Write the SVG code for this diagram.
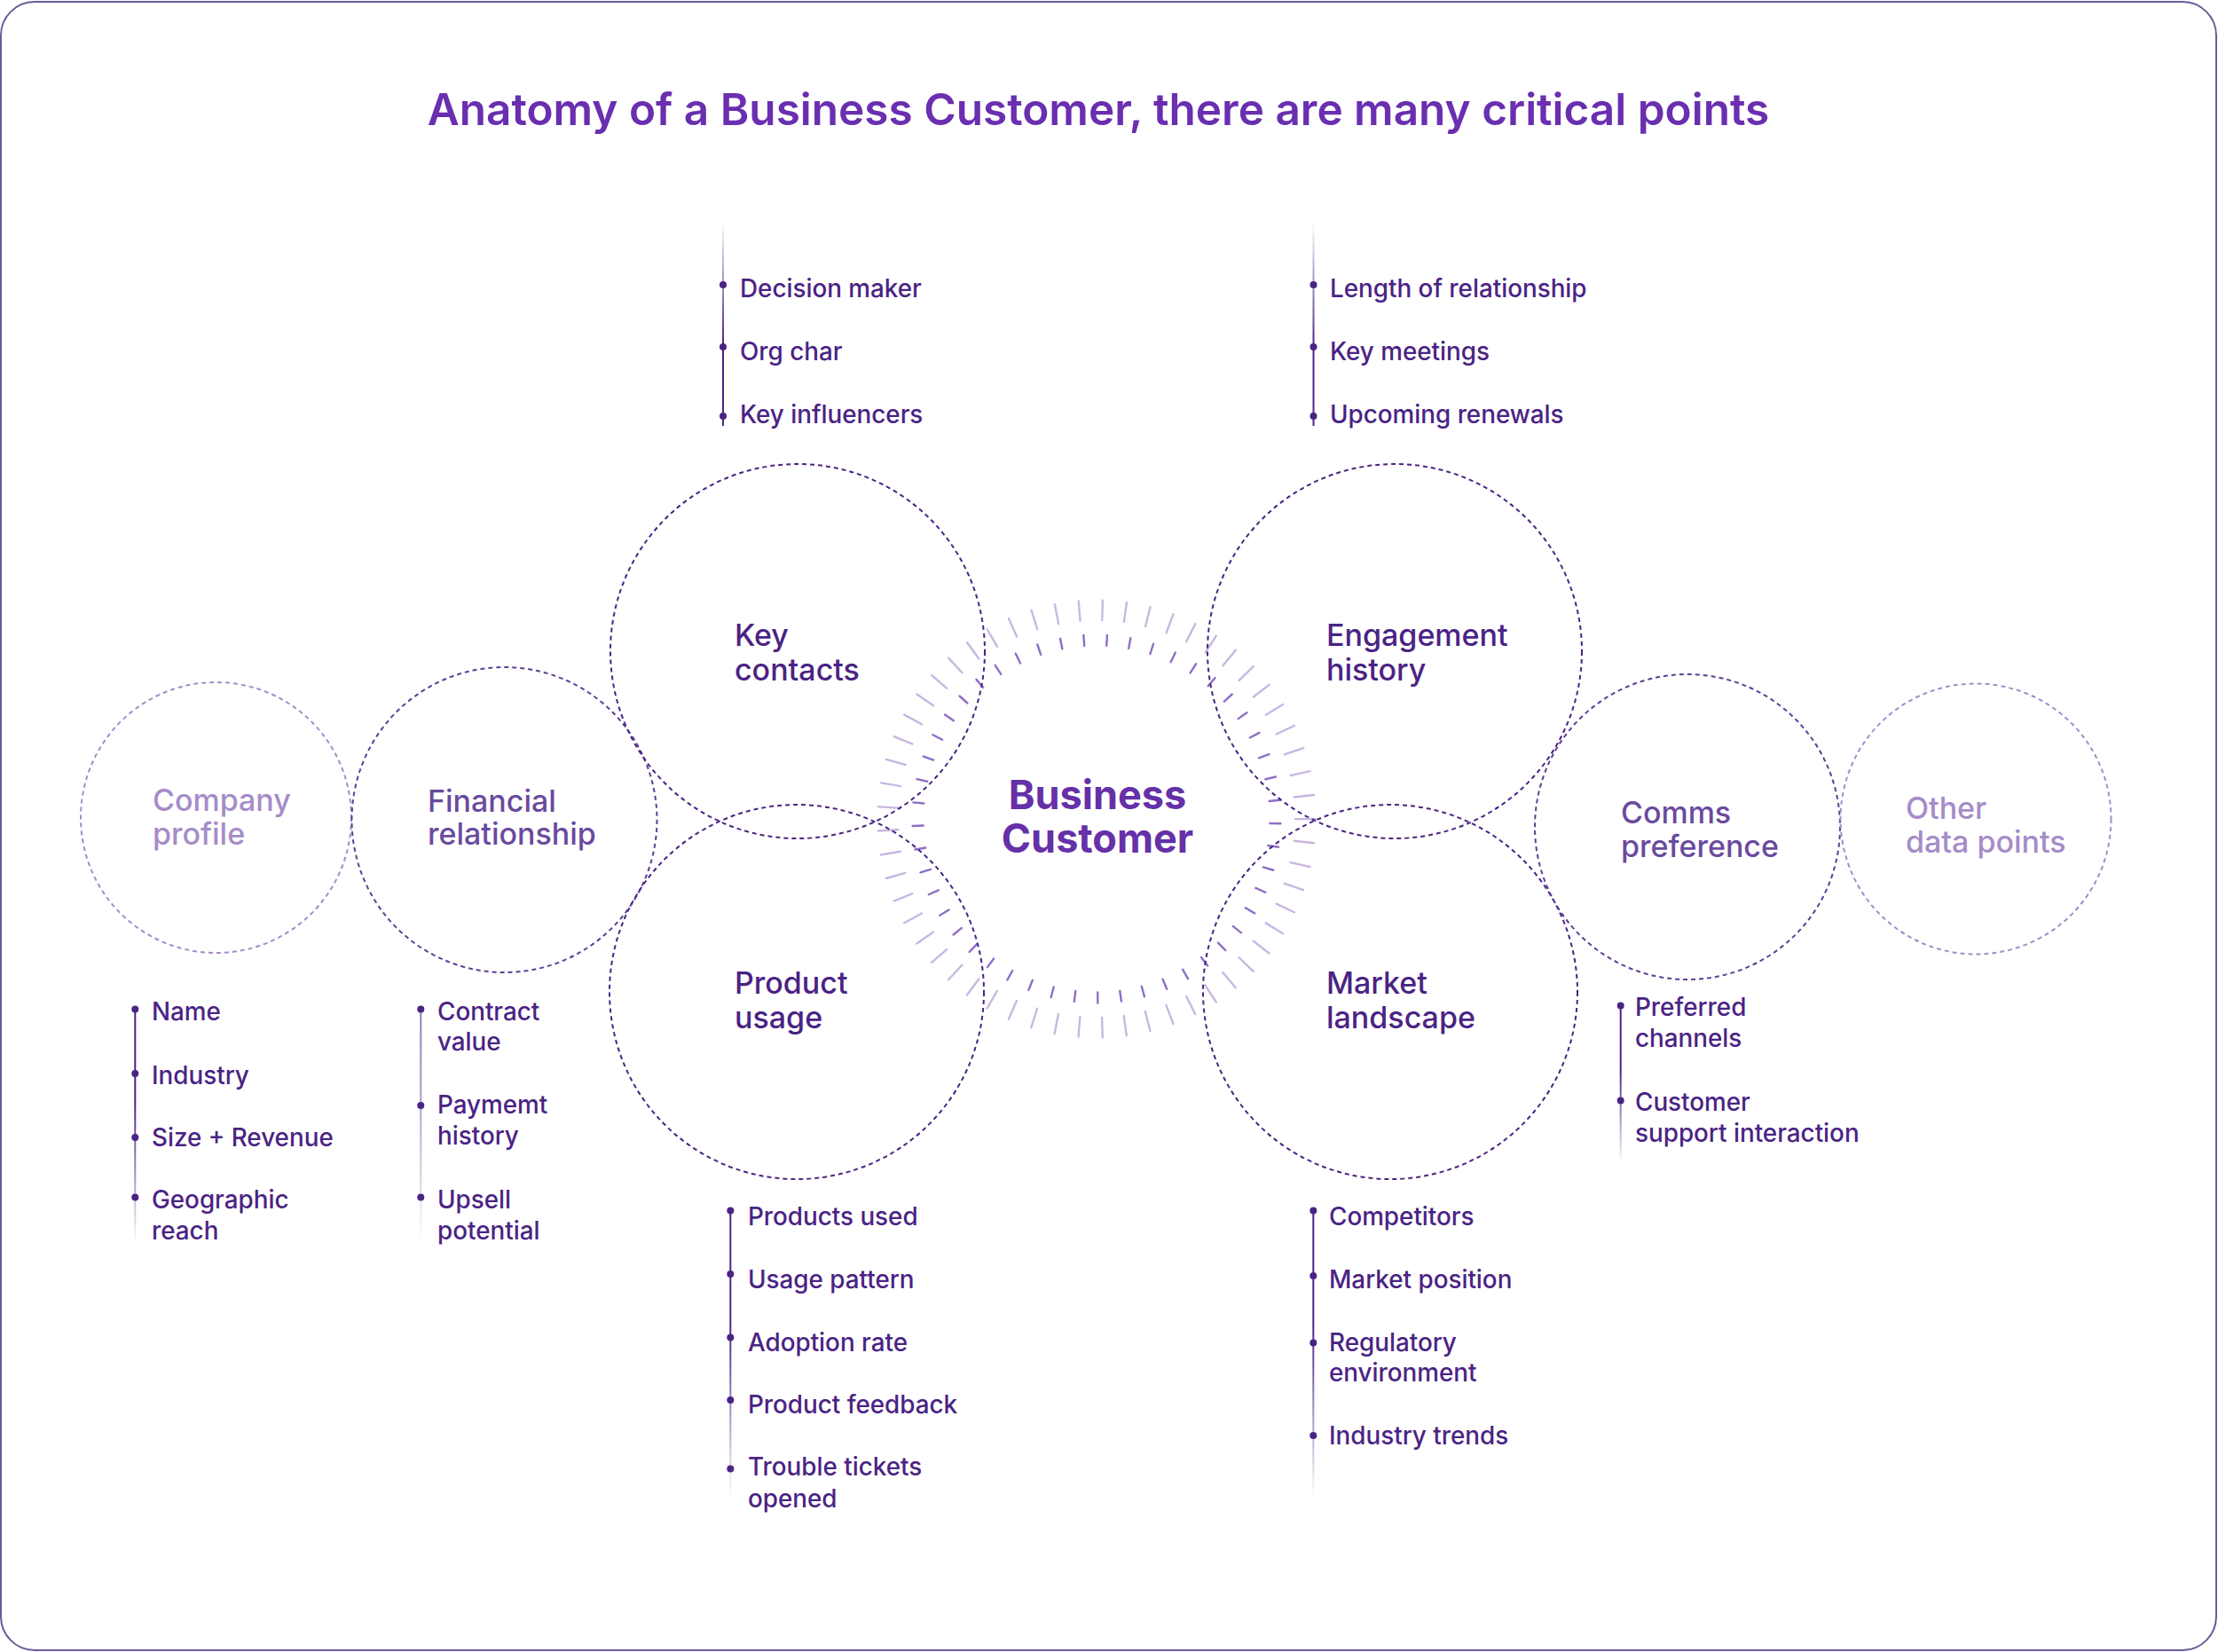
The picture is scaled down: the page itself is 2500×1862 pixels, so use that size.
<svg xmlns="http://www.w3.org/2000/svg" xmlns:xlink="http://www.w3.org/1999/xlink" width="2500" height="1862" viewBox="0 0 2500 1862">
<style>
.title{font-family:Inter,"Noto Sans",sans-serif;font-weight:600;font-size:49.5px;fill:#6a2fb0}
.center{font-family:Inter,"Noto Sans",sans-serif;font-weight:700;font-size:45px;fill:#6530a8}
.lbl{font-family:Inter,"Noto Sans",sans-serif;font-weight:500;font-size:34px}
.dark{fill:#4a2384}
.mid{fill:#6a4a9e}
.light{fill:#a58cc8}
.item{font-family:Inter,"Noto Sans",sans-serif;font-weight:500;font-size:27.8px;fill:#4a2384}
.ring{fill:none;stroke-width:2;stroke-dasharray:5 4}
.rdark{stroke:#4a2384}
.rmid{stroke:#5e3f96}
.rlight{stroke:#a58cc8}
.dot{fill:#4a2384}
.to{stroke:#c8b7e2;stroke-width:2.4;stroke-linecap:round}
.ti{stroke:#8f6fc4;stroke-width:2.4;stroke-linecap:round}
</style>
<defs>
<linearGradient id="gUp" x1="0" y1="0" x2="0" y2="1"><stop offset="0" stop-color="#4a2384" stop-opacity="0"/><stop offset="0.6" stop-color="#4a2384" stop-opacity="1"/><stop offset="1" stop-color="#4a2384" stop-opacity="1"/></linearGradient>
<linearGradient id="gDown" x1="0" y1="0" x2="0" y2="1"><stop offset="0" stop-color="#4a2384" stop-opacity="1"/><stop offset="0.4" stop-color="#4a2384" stop-opacity="1"/><stop offset="1" stop-color="#4a2384" stop-opacity="0"/></linearGradient>
<linearGradient id="gFin" x1="0" y1="0" x2="0" y2="1"><stop offset="0" stop-color="#4a2384" stop-opacity="0.6"/><stop offset="0.4" stop-color="#4a2384" stop-opacity="0.45"/><stop offset="1" stop-color="#4a2384" stop-opacity="0"/></linearGradient>
<line id="to" class="to" x1="1236" y1="676.5" x2="1236" y2="699"/>
<line id="ti" class="ti" x1="1236" y1="715.5" x2="1236" y2="727.5"/>
</defs>
<rect x="1" y="2" width="2497" height="1858" rx="38" ry="38" fill="#ffffff" stroke="#6b5a9a" stroke-width="2"/>
<text class="title" x="1238" y="141" text-anchor="middle">Anatomy of a Business Customer, there are many critical points</text>

<g id="ticks">
<use href="#to" transform="rotate(1.6 1236 923)"/><use href="#to" transform="rotate(7.92 1236 923)"/><use href="#to" transform="rotate(14.23 1236 923)"/><use href="#to" transform="rotate(20.55 1236 923)"/><use href="#to" transform="rotate(26.86 1236 923)"/><use href="#to" transform="rotate(33.18 1236 923)"/><use href="#to" transform="rotate(39.49 1236 923)"/><use href="#to" transform="rotate(45.81 1236 923)"/><use href="#to" transform="rotate(52.13 1236 923)"/><use href="#to" transform="rotate(58.44 1236 923)"/><use href="#to" transform="rotate(64.76 1236 923)"/><use href="#to" transform="rotate(71.07 1236 923)"/><use href="#to" transform="rotate(77.39 1236 923)"/><use href="#to" transform="rotate(83.71 1236 923)"/><use href="#to" transform="rotate(90.02 1236 923)"/><use href="#to" transform="rotate(96.34 1236 923)"/><use href="#to" transform="rotate(102.65 1236 923)"/><use href="#to" transform="rotate(108.97 1236 923)"/><use href="#to" transform="rotate(115.28 1236 923)"/><use href="#to" transform="rotate(121.6 1236 923)"/><use href="#to" transform="rotate(127.92 1236 923)"/><use href="#to" transform="rotate(134.23 1236 923)"/><use href="#to" transform="rotate(140.55 1236 923)"/><use href="#to" transform="rotate(146.86 1236 923)"/><use href="#to" transform="rotate(153.18 1236 923)"/><use href="#to" transform="rotate(159.49 1236 923)"/><use href="#to" transform="rotate(165.81 1236 923)"/><use href="#to" transform="rotate(172.13 1236 923)"/><use href="#to" transform="rotate(178.44 1236 923)"/><use href="#to" transform="rotate(184.76 1236 923)"/><use href="#to" transform="rotate(191.07 1236 923)"/><use href="#to" transform="rotate(197.39 1236 923)"/><use href="#to" transform="rotate(203.71 1236 923)"/><use href="#to" transform="rotate(210.02 1236 923)"/><use href="#to" transform="rotate(216.34 1236 923)"/><use href="#to" transform="rotate(222.65 1236 923)"/><use href="#to" transform="rotate(228.97 1236 923)"/><use href="#to" transform="rotate(235.28 1236 923)"/><use href="#to" transform="rotate(241.6 1236 923)"/><use href="#to" transform="rotate(247.92 1236 923)"/><use href="#to" transform="rotate(254.23 1236 923)"/><use href="#to" transform="rotate(260.55 1236 923)"/><use href="#to" transform="rotate(266.86 1236 923)"/><use href="#to" transform="rotate(273.18 1236 923)"/><use href="#to" transform="rotate(279.49 1236 923)"/><use href="#to" transform="rotate(285.81 1236 923)"/><use href="#to" transform="rotate(292.13 1236 923)"/><use href="#to" transform="rotate(298.44 1236 923)"/><use href="#to" transform="rotate(304.76 1236 923)"/><use href="#to" transform="rotate(311.07 1236 923)"/><use href="#to" transform="rotate(317.39 1236 923)"/><use href="#to" transform="rotate(323.71 1236 923)"/><use href="#to" transform="rotate(330.02 1236 923)"/><use href="#to" transform="rotate(336.34 1236 923)"/><use href="#to" transform="rotate(342.65 1236 923)"/><use href="#to" transform="rotate(348.97 1236 923)"/><use href="#to" transform="rotate(355.28 1236 923)"/>
<use href="#ti" transform="rotate(3.3 1236 923)"/><use href="#ti" transform="rotate(10.65 1236 923)"/><use href="#ti" transform="rotate(17.99 1236 923)"/><use href="#ti" transform="rotate(25.34 1236 923)"/><use href="#ti" transform="rotate(32.69 1236 923)"/><use href="#ti" transform="rotate(40.03 1236 923)"/><use href="#ti" transform="rotate(47.38 1236 923)"/><use href="#ti" transform="rotate(54.73 1236 923)"/><use href="#ti" transform="rotate(62.08 1236 923)"/><use href="#ti" transform="rotate(69.42 1236 923)"/><use href="#ti" transform="rotate(76.77 1236 923)"/><use href="#ti" transform="rotate(84.12 1236 923)"/><use href="#ti" transform="rotate(91.46 1236 923)"/><use href="#ti" transform="rotate(98.81 1236 923)"/><use href="#ti" transform="rotate(106.16 1236 923)"/><use href="#ti" transform="rotate(113.5 1236 923)"/><use href="#ti" transform="rotate(120.85 1236 923)"/><use href="#ti" transform="rotate(128.2 1236 923)"/><use href="#ti" transform="rotate(135.54 1236 923)"/><use href="#ti" transform="rotate(142.89 1236 923)"/><use href="#ti" transform="rotate(150.24 1236 923)"/><use href="#ti" transform="rotate(157.58 1236 923)"/><use href="#ti" transform="rotate(164.93 1236 923)"/><use href="#ti" transform="rotate(172.28 1236 923)"/><use href="#ti" transform="rotate(179.63 1236 923)"/><use href="#ti" transform="rotate(186.97 1236 923)"/><use href="#ti" transform="rotate(194.32 1236 923)"/><use href="#ti" transform="rotate(201.67 1236 923)"/><use href="#ti" transform="rotate(209.01 1236 923)"/><use href="#ti" transform="rotate(216.36 1236 923)"/><use href="#ti" transform="rotate(223.71 1236 923)"/><use href="#ti" transform="rotate(231.05 1236 923)"/><use href="#ti" transform="rotate(238.4 1236 923)"/><use href="#ti" transform="rotate(245.75 1236 923)"/><use href="#ti" transform="rotate(253.09 1236 923)"/><use href="#ti" transform="rotate(260.44 1236 923)"/><use href="#ti" transform="rotate(267.79 1236 923)"/><use href="#ti" transform="rotate(275.14 1236 923)"/><use href="#ti" transform="rotate(282.48 1236 923)"/><use href="#ti" transform="rotate(289.83 1236 923)"/><use href="#ti" transform="rotate(297.18 1236 923)"/><use href="#ti" transform="rotate(304.52 1236 923)"/><use href="#ti" transform="rotate(311.87 1236 923)"/><use href="#ti" transform="rotate(319.22 1236 923)"/><use href="#ti" transform="rotate(326.56 1236 923)"/><use href="#ti" transform="rotate(333.91 1236 923)"/><use href="#ti" transform="rotate(341.26 1236 923)"/><use href="#ti" transform="rotate(348.6 1236 923)"/><use href="#ti" transform="rotate(355.95 1236 923)"/>
</g>

<g id="node-business-customer">
<text class="center" text-anchor="middle"><tspan x="1237" y="912">Business</tspan><tspan x="1237" y="961">Customer</tspan></text>
</g>

<g id="node-company-profile">
<circle class="ring rlight" cx="243.5" cy="921.5" r="152.5"/>
<text class="lbl light" x="172" y="914">Company</text>
<text class="lbl light" x="172" y="952">profile</text>
</g>
<g id="node-financial-relationship">
<circle class="ring rmid" cx="568.5" cy="924" r="172"/>
<text class="lbl mid" x="482" y="915">Financial</text>
<text class="lbl mid" x="482" y="952">relationship</text>
</g>
<g id="node-key-contacts">
<circle class="ring rdark" cx="899" cy="734" r="211"/>
<text class="lbl dark" x="828" y="728">Key</text>
<text class="lbl dark" x="828" y="767">contacts</text>
</g>
<g id="node-product-usage">
<circle class="ring rdark" cx="898" cy="1118" r="211"/>
<text class="lbl dark" x="828" y="1120">Product</text>
<text class="lbl dark" x="828" y="1159">usage</text>
</g>
<g id="node-engagement-history">
<circle class="ring rdark" cx="1572" cy="734" r="211"/>
<text class="lbl dark" x="1495" y="728">Engagement</text>
<text class="lbl dark" x="1495" y="767">history</text>
</g>
<g id="node-market-landscape">
<circle class="ring rdark" cx="1567" cy="1118" r="211"/>
<text class="lbl dark" x="1495" y="1120">Market</text>
<text class="lbl dark" x="1495" y="1159">landscape</text>
</g>
<g id="node-comms-preference">
<circle class="ring rmid" cx="1902" cy="932" r="172"/>
<text class="lbl mid" x="1827" y="928">Comms</text>
<text class="lbl mid" x="1827" y="966">preference</text>
</g>
<g id="node-other-data-points">
<circle class="ring rlight" cx="2227" cy="923" r="152.5"/>
<text class="lbl light" x="2148" y="923">Other</text>
<text class="lbl light" x="2148" y="961">data points</text>
</g>

<g id="connectors">
<g id="list-key-contacts">
<rect x="814" y="250" width="2" height="230" fill="url(#gUp)"/>
<circle class="dot" cx="815" cy="321" r="4"/><circle class="dot" cx="815" cy="391" r="4"/><circle class="dot" cx="815" cy="469" r="4"/>
<text class="item" x="834" y="335">Decision maker</text>
<text class="item" x="834" y="406">Org char</text>
<text class="item" x="834" y="477">Key influencers</text>
</g>
<g id="list-engagement-history">
<rect x="1479.5" y="250" width="2" height="230" fill="url(#gUp)"/>
<circle class="dot" cx="1480.5" cy="321" r="4"/><circle class="dot" cx="1480.5" cy="391" r="4"/><circle class="dot" cx="1480.5" cy="469" r="4"/>
<text class="item" x="1499" y="335">Length of relationship</text>
<text class="item" x="1499" y="406">Key meetings</text>
<text class="item" x="1499" y="477">Upcoming renewals</text>
</g>
<g id="list-company-profile">
<rect x="151.3" y="1137" width="2" height="266" fill="url(#gDown)"/>
<circle class="dot" cx="152.3" cy="1137.5" r="4"/><circle class="dot" cx="152.3" cy="1210" r="4"/><circle class="dot" cx="152.3" cy="1282" r="4"/><circle class="dot" cx="152.3" cy="1349.5" r="4"/>
<text class="item" x="171" y="1150">Name</text>
<text class="item" x="171" y="1222">Industry</text>
<text class="item" x="171" y="1292">Size + Revenue</text>
<text class="item" x="171" y="1362">Geographic</text>
<text class="item" x="171" y="1397">reach</text>
</g>
<g id="list-financial-relationship">
<rect x="473.3" y="1137" width="2" height="266" fill="url(#gFin)"/>
<circle class="dot" cx="474.3" cy="1137.5" r="4"/><circle class="dot" cx="474.3" cy="1246" r="4"/><circle class="dot" cx="474.3" cy="1349.5" r="4"/>
<text class="item" x="493" y="1150">Contract</text>
<text class="item" x="493" y="1184">value</text>
<text class="item" x="493" y="1255">Paymemt</text>
<text class="item" x="493" y="1290">history</text>
<text class="item" x="493" y="1362">Upsell</text>
<text class="item" x="493" y="1397">potential</text>
</g>
<g id="list-product-usage">
<rect x="822.3" y="1364" width="2" height="324" fill="url(#gDown)"/>
<circle class="dot" cx="823.3" cy="1364.5" r="4"/><circle class="dot" cx="823.3" cy="1436" r="4"/><circle class="dot" cx="823.3" cy="1507.5" r="4"/><circle class="dot" cx="823.3" cy="1578" r="4"/><circle class="dot" cx="823.3" cy="1655.5" r="4"/>
<text class="item" x="843" y="1381">Products used</text>
<text class="item" x="843" y="1452">Usage pattern</text>
<text class="item" x="843" y="1523">Adoption rate</text>
<text class="item" x="843" y="1593">Product feedback</text>
<text class="item" x="843" y="1663">Trouble tickets</text>
<text class="item" x="843" y="1699">opened</text>
</g>
<g id="list-market-landscape">
<rect x="1479.3" y="1364" width="2" height="324" fill="url(#gDown)"/>
<circle class="dot" cx="1480.3" cy="1364.5" r="4"/><circle class="dot" cx="1480.3" cy="1438" r="4"/><circle class="dot" cx="1480.3" cy="1513.5" r="4"/><circle class="dot" cx="1480.3" cy="1618" r="4"/>
<text class="item" x="1498" y="1381">Competitors</text>
<text class="item" x="1498" y="1452">Market position</text>
<text class="item" x="1498" y="1523">Regulatory</text>
<text class="item" x="1498" y="1557">environment</text>
<text class="item" x="1498" y="1628">Industry trends</text>
</g>
<g id="list-comms-preference">
<rect x="1825.7" y="1133" width="2" height="179" fill="url(#gDown)"/>
<circle class="dot" cx="1826.7" cy="1133.5" r="4"/><circle class="dot" cx="1826.7" cy="1240.5" r="4"/>
<text class="item" x="1843" y="1145">Preferred</text>
<text class="item" x="1843" y="1180">channels</text>
<text class="item" x="1843" y="1252">Customer</text>
<text class="item" x="1843" y="1287">support interaction</text>
</g>
</g>
</svg>
